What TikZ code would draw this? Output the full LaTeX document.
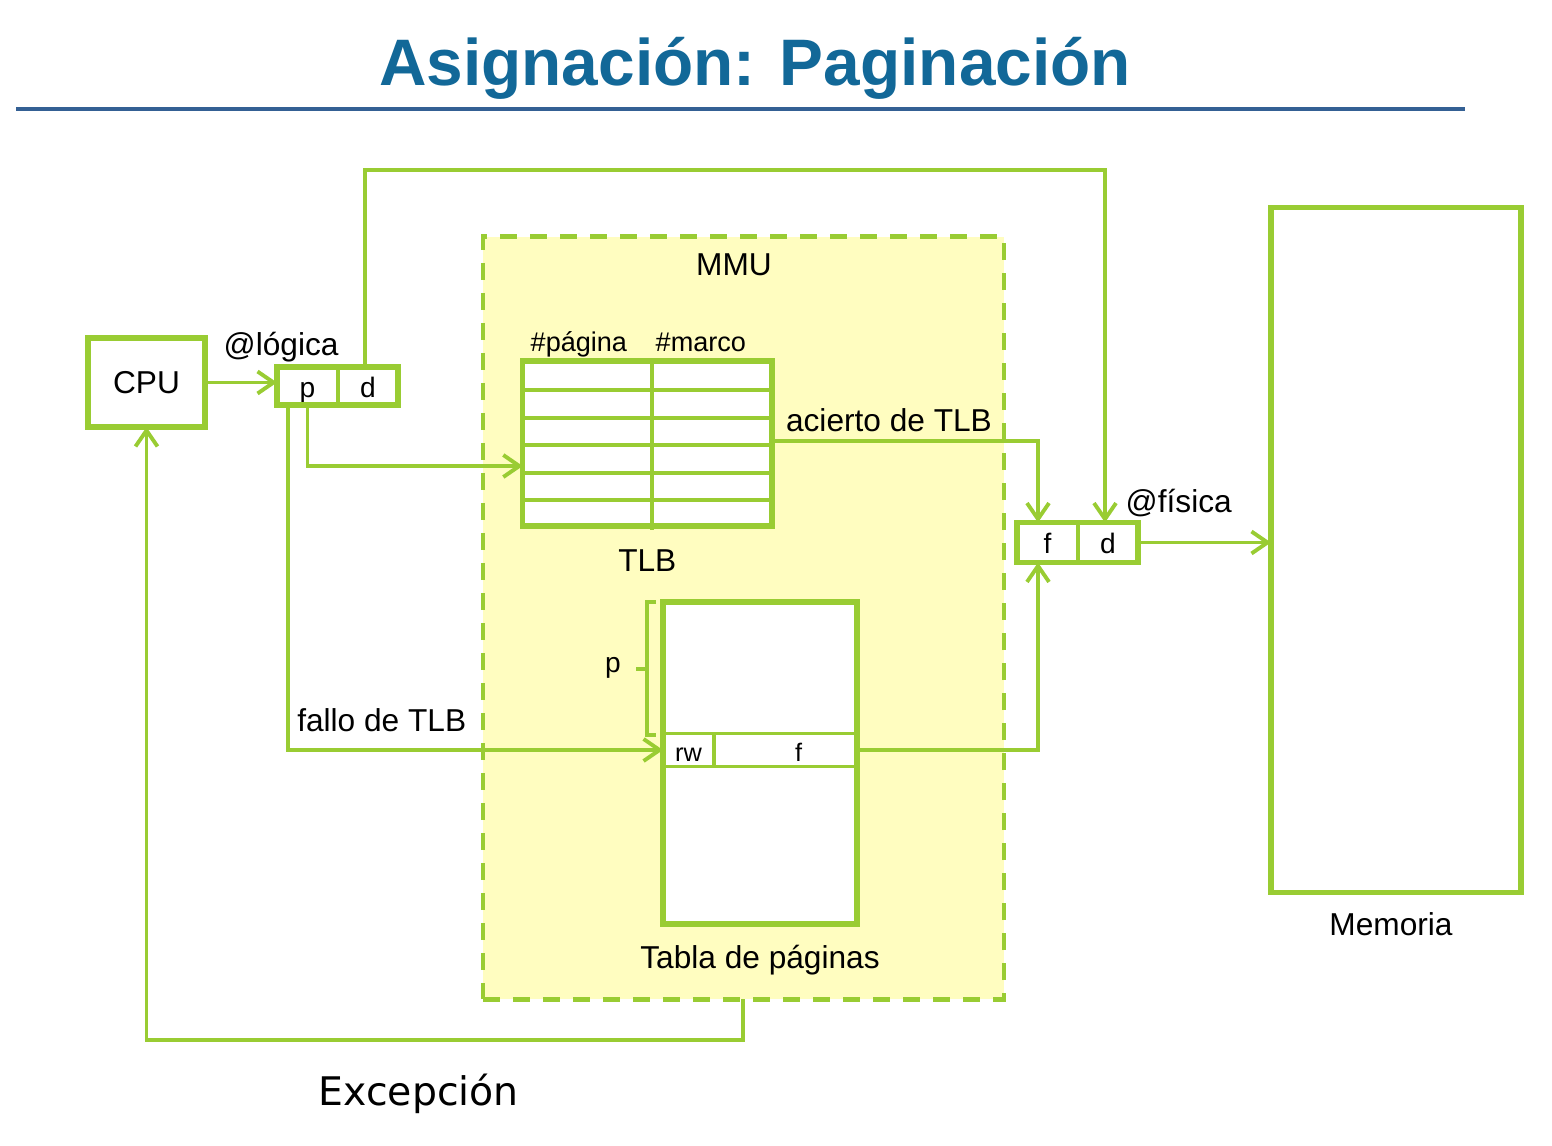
\documentclass[tikz,border=0pt]{standalone}
\usepackage{fontspec}
\setmainfont{Liberation Sans}
\newfontfamily\excfont{DejaVu Sans}
\definecolor{lime}{RGB}{153,204,51}
\definecolor{mmufill}{RGB}{255,253,192}
\definecolor{titleblue}{RGB}{18,104,152}
\definecolor{titlerule}{RGB}{52,96,148}
\usetikzlibrary{arrows.meta,positioning}
\tikzset{
  box/.style={draw=lime,line width=1.5pt,fill=white,inner sep=0pt,outer sep=0pt,
              font=\fontsize{9}{11}\selectfont},
  cell/.style={draw=lime,line width=0.9pt,fill=white,inner sep=0pt,outer sep=0pt,
               text height=1.5ex,text depth=.3ex,font=\fontsize{8}{10}\selectfont},
  boxline/.style={draw=lime,line width=1.5pt},
  rowline/.style={draw=lime,line width=0.9pt},
  wire/.style={draw=lime,line width=1.1pt},
  arr/.style={wire,-{Straight Barb[length=1.6mm,width=2.2mm,line width=1.1pt]}},
  lbl/.style={font=\fontsize{9}{11}\selectfont,inner sep=0pt},
  smalllbl/.style={font=\fontsize{7.7}{9}\selectfont,inner sep=0pt},
}
\begin{document}
\begin{tikzpicture}[x=0.01cm,y=-0.01cm]
  \useasboundingbox (0,0) rectangle (1552,1146);
  % title
  \node[anchor=base,inner sep=0pt,text=titleblue,font=\fontsize{18.7}{22}\selectfont\bfseries]
    (title) at (755,86) {Asignación: Paginación};
  \draw[titlerule,line width=0.9pt] (16,109) -- (1465,109);

  % MMU area
  \node[draw=lime,fill=mmufill,line width=1.3pt,dash pattern=on 0.17cm off 0.13cm,
        minimum width=5.21cm,minimum height=7.62cm,outer sep=0pt] (mmu) at (743.5,618) {};
  \node[lbl,anchor=base] (mmulbl) at (734,276) {MMU};

  % CPU and logical address
  \node[box,minimum width=1.17cm,minimum height=0.89cm] (cpu) at (146.5,382.5) {CPU};
  \node[cell,minimum width=0.61cm,minimum height=0.38cm] (lp) at (307.5,386) {p};
  \node[cell,minimum width=0.60cm,minimum height=0.38cm] (ld) at (368,386) {d};
  \draw[boxline] (lp.north west) rectangle (ld.south east);
  \node[lbl,anchor=base west] (loglbl) at (223,356) {@lógica};

  % TLB
  \node[box,minimum width=2.49cm,minimum height=1.65cm] (tlb) at (647.3,443.5) {};
  \foreach \y in {390,418,445,473,500}
    \draw[rowline] (tlb.west |- 0,\y) -- (tlb.east |- 0,\y);
  \draw[rowline] (652,361) -- (652,530);
  \draw[boxline] (tlb.north west) rectangle (tlb.south east);
  \node[smalllbl,anchor=base west] (pagelbl) at (530,351) {\#página};
  \node[smalllbl,anchor=base west] (marcolbl) at (655,351) {\#marco};
  \node[lbl,below=0.23cm of tlb] (tlblbl) {TLB};

  % page table
  \node[box,minimum width=1.94cm,minimum height=3.22cm] (pt) at (760,763) {};
  \node[cell,font=\fontsize{7.2}{9}\selectfont,minimum width=0.51cm,minimum height=0.26cm] (rw) at (688.5,750) {rw};
  \node[cell,font=\fontsize{7.2}{9}\selectfont,minimum width=1.43cm,minimum height=0.26cm] (fr) at (785.5,750) {\hspace*{0.26cm}f};
  \draw[boxline] (pt.north west) rectangle (pt.south east);
  \draw[wire] (656,602) -- (647,602) -- (647,735) -- (656,735);
  \draw[wire] (647,669) -- (636,669);
  \node[lbl,font=\fontsize{8}{10}\selectfont,anchor=base] (plbl) at (613,672) {p};
  \node[lbl,below=0.2cm of pt] (ptlbl) {Tabla de páginas};

  % physical address
  \node[cell,minimum width=0.61cm,minimum height=0.40cm] (pf) at (1047.5,542.5) {f};
  \node[cell,minimum width=0.60cm,minimum height=0.40cm] (pd) at (1108,542.5) {d};
  \draw[boxline] (pf.north west) rectangle (pd.south east);
  \node[lbl,anchor=base west] (fislbl) at (1125,512) {@física};

  % memory
  \node[box,minimum width=2.50cm,minimum height=6.84cm] (mem) at (1396,550) {};
  \node[lbl,anchor=base] (memlbl) at (1391,935) {Memoria};

  % connectors
  \coordinate (topwire) at (0,170);
  \coordinate (excwire) at (0,1040);
  \draw[arr] (cpu.east) -- (cpu.east -| lp.west);
  \draw[arr] ([xshift=-0.03cm]ld.north) -- ([xshift=-0.03cm]ld.north |- topwire)
    -| ([xshift=-0.03cm]pd.north);
  \draw[arr] (lp.south) |- ([yshift=-0.225cm]tlb.west);
  \draw[arr] ([xshift=-0.195cm]lp.south) |- node[lbl,above=0.16cm,pos=0.625]{fallo de TLB} (rw.west);
  \draw[arr] ([yshift=0.025cm]tlb.east) -| node[lbl,above=0.07cm,pos=0.22]{acierto de TLB}
    ([xshift=-0.095cm]pf.north);
  \draw[arr] (fr.east) -| ([xshift=-0.095cm]pf.south);
  \draw[arr] (pd.east) -- (pd.east -| mem.west);
  \draw[arr] ([xshift=-0.005cm]mmu.south) -- ([xshift=-0.005cm]mmu.south |- excwire) -| (cpu.south);
  \node[anchor=base west,inner sep=0pt,font=\excfont\fontsize{11.2}{13}\selectfont] (exclbl) at (318,1105) {Excepción};
\end{tikzpicture}
\end{document}
